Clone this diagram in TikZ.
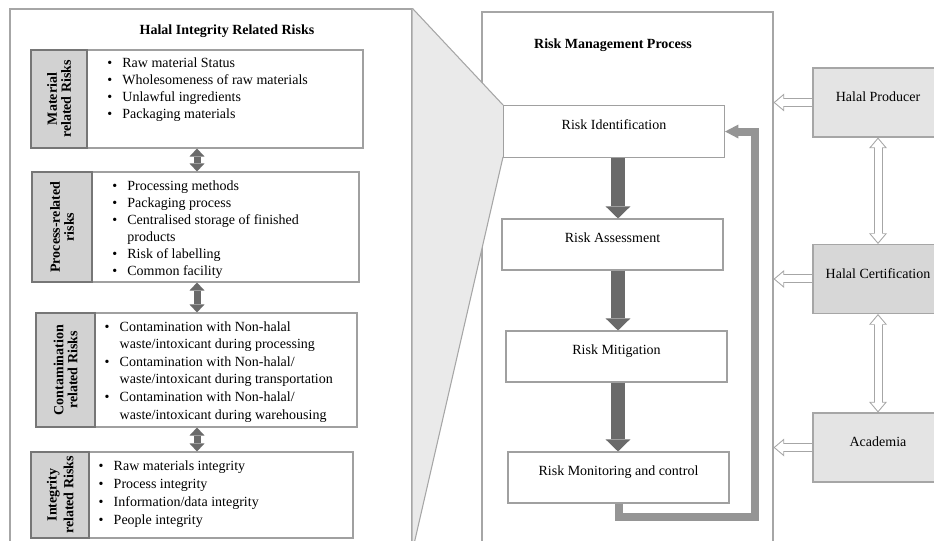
\documentclass[tikz,border=0pt]{standalone}
\usepackage{fontspec}
\setmainfont{Liberation Serif}
\usepackage{graphicx}
\usetikzlibrary{positioning,arrows.meta}
\definecolor{panelline}{HTML}{A6A6A6}
\definecolor{boxline}{HTML}{A0A0A0}
\definecolor{lblline}{HTML}{767676}
\definecolor{lblfill}{HTML}{D2D2D2}
\definecolor{callfill}{HTML}{EAEAEA}
\definecolor{dkarrow}{HTML}{6A6A6A}
\definecolor{fbgray}{HTML}{959595}
\definecolor{prodfill}{HTML}{E4E4E4}
\definecolor{certfill}{HTML}{D7D7D7}
\newcommand{\bul}{\makebox[11.25pt][l]{\textbullet}}
\newcommand{\bulskip}{\hspace*{11.25pt}}
\tikzset{
  txt/.style={font=\fontsize{10.5}{12.75}\selectfont},
  panel/.style={draw=panelline,line width=0.8pt,fill=white},
  title/.style={txt,font=\fontsize{10.5}{12.75}\selectfont\bfseries,inner sep=0pt},
  itembox/.style={draw=boxline,fill=white,line width=0.8pt,inner sep=0pt},
  lblbox/.style={txt,draw=lblline,fill=lblfill,line width=1pt,inner sep=0pt,
    font=\fontsize{10.5}{12.75}\selectfont\bfseries},
  itemlist/.style={txt,anchor=north west,inner sep=0pt,align=left},
  stepbox/.style={txt,draw=boxline,fill=white,line width=0.8pt,minimum width=165.75pt,
    minimum height=38.25pt,text height=7pt,text depth=9.9pt},
  actor/.style={txt,draw=panelline,line width=0.8pt,minimum width=97.5pt,
    minimum height=51.75pt,text height=7pt,text depth=8.4pt},
  callout/.style={fill=callfill},
  calledge/.style={draw=panelline,line width=0.8pt},
  dkdbl/.style={draw=dkarrow,line width=5.25pt,
    {Triangle[length=6pt,width=11.25pt,line width=0pt]}-{Triangle[length=6pt,width=11.25pt,line width=0pt]}},
  dkarr/.style={draw=dkarrow,line width=10pt,-{Triangle[length=9pt,width=18.5pt,line width=0pt]}},
  fbarr/.style={draw=fbgray,line width=6pt,line join=miter,
    -{Triangle[length=10pt,width=10.5pt,line width=0pt]}},
  openarr/.style={draw=panelline,line width=6.75pt,-{Triangle[length=8pt,width=13.5pt,line width=0pt]},
    postaction={draw=white,line width=5.25pt,-{Triangle[length=6.1pt,width=10.3pt,line width=0pt]},
      shorten >=1.2pt}},
  opendbl/.style={draw=panelline,line width=6.75pt,
    {Triangle[length=8pt,width=13.5pt,line width=0pt]}-{Triangle[length=8pt,width=13.5pt,line width=0pt]},
    postaction={draw=white,line width=5.25pt,
      {Triangle[length=6.1pt,width=10.3pt,line width=0pt]}-{Triangle[length=6.1pt,width=10.3pt,line width=0pt]},
      shorten >=1.2pt,shorten <=1.2pt}},
}
\begin{document}
\begin{tikzpicture}[x=0.75pt,y=-0.75pt]
  \useasboundingbox (0,0) rectangle (934,541);
  \clip (0,0) rectangle (934,541);
  % panels
  \node[panel,minimum width=218.25pt,minimum height=403.5pt] (rmp) at (627.5,281) {};
  \node[title] (rmptitle) at (613,45) {Risk Management Process};
  \node[panel,minimum width=301.5pt,minimum height=405.75pt] (lp) at (211,279.5) {};
  \node[title] (lptitle) at (227,31) {Halal Integrity Related Risks};
  % zoom callout
  \coordinate (zmtop) at (503,105);
  \coordinate (zmbot) at (503,157);
  \fill[callout] (lp.north east) -- (zmtop) -- (zmbot) -- (lp.south east) -- cycle;
  \draw[calledge] (lp.north east) -- (zmtop) (zmbot) -- (lp.south east);
  % risk groups
  \node[itembox,minimum width=207pt,minimum height=73.5pt] (matbox) at (225,99) {};
  \node[lblbox,minimum width=42pt,minimum height=73.5pt,left=-1pt of matbox] (matlbl)
    {\rotatebox{90}{\shortstack{Material\\related Risks}}};
  \node[itemlist] (matlist) at ([xshift=15.5pt,yshift=-6pt]matbox.north west)
    {\bul Raw material Status\\ \bul Wholesomeness of raw materials\\
     \bul Unlawful ingredients\\ \bul Packaging materials};
  \node[itembox,minimum width=200.25pt,minimum height=82.5pt] (procbox) at (225.5,227) {};
  \node[lblbox,minimum width=45pt,minimum height=82.5pt,left=-1pt of procbox] (proclbl)
    {\rotatebox{90}{\shortstack{Process-related\\risks}}};
  \node[itemlist] (proclist) at ([xshift=15.5pt,yshift=-6.5pt]procbox.north west)
    {\bul Processing methods\\ \bul Packaging process\\
     \bul Centralised storage of finished\\ \bulskip products\\
     \bul Risk of labelling\\ \bul Common facility};
  \node[itembox,minimum width=196.5pt,minimum height=85.5pt] (contbox) at (226,370) {};
  \node[lblbox,minimum width=44.25pt,minimum height=85.5pt,left=-1pt of contbox] (contlbl)
    {\rotatebox{90}{\shortstack{Contamination\\related Risks}}};
  \node[itemlist,font=\fontsize{10.5}{13.2}\selectfont] (contlist)
    at ([xshift=7.5pt,yshift=-6.5pt]contbox.north west)
    {\bul Contamination with Non-halal\\ \bulskip waste/intoxicant during processing\\
     \bul Contamination with Non-halal/\\ \bulskip waste/intoxicant during transportation\\
     \bul Contamination with Non-halal/\\ \bulskip waste/intoxicant during warehousing};
  \node[itembox,minimum width=198pt,minimum height=64.5pt] (intbox) at (221,495) {};
  \node[lblbox,minimum width=43.5pt,minimum height=64.5pt,left=-1pt of intbox] (intlbl)
    {\rotatebox{90}{\shortstack{Integrity\\related Risks}}};
  \node[itemlist,font=\fontsize{10.5}{13.7}\selectfont] (intlist)
    at ([xshift=7.5pt,yshift=-6.5pt]intbox.north west)
    {\bul Raw materials integrity\\ \bul Process integrity\\
     \bul Information/data integrity\\ \bul People integrity};
  \coordinate (ax) at (197,0);
  \draw[dkdbl] (matbox.south -| ax) -- (procbox.north -| ax);
  \draw[dkdbl] (procbox.south -| ax) -- (contbox.north -| ax);
  \draw[dkdbl] (contbox.south -| ax) -- (intbox.north -| ax);
  % risk management steps
  \node[stepbox,anchor=north west,minimum height=39pt] (ident) at (zmtop) {Risk Identification};
  \node[stepbox] (assess) at (612.5,244.5) {Risk Assessment};
  \node[stepbox] (mitig) at (616.5,356.5) {Risk Mitigation};
  \node[stepbox] (monit) at (618.5,477.5) {Risk Monitoring and control};
  \coordinate (dkx) at (618,0);
  \draw[dkarr] (ident.south -| dkx) -- (assess.north -| dkx);
  \draw[dkarr] (assess.south -| dkx) -- (mitig.north -| dkx);
  \draw[dkarr] (mitig.south -| dkx) -- (monit.north -| dkx);
  \coordinate (fbturn) at (755,517);
  \draw[fbarr] (monit.south) |- (fbturn) |- (ident.east);
  % stakeholders
  \node[actor,fill=prodfill] (prod) at (878,102.5) {Halal Producer};
  \node[actor,fill=certfill] (cert) at (878,279) {Halal Certification};
  \node[actor,fill=prodfill] (acad) at (878,447.5) {Academia};
  \draw[openarr] (prod.west) -- (prod.west -| rmp.east);
  \draw[openarr] (cert.west) -- (cert.west -| rmp.east);
  \draw[openarr] (acad.west) -- (acad.west -| rmp.east);
  \draw[opendbl] (prod.south) -- (cert.north);
  \draw[opendbl] (cert.south) -- (acad.north);
\end{tikzpicture}
\end{document}
